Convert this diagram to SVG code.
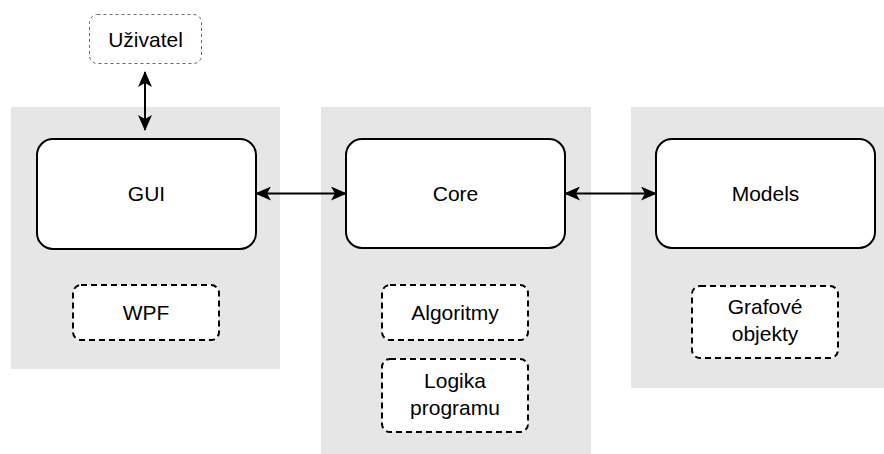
<svg xmlns="http://www.w3.org/2000/svg" width="884" height="454" viewBox="0 0 884 454">
<style>
.panel{fill:#e6e6e6;stroke:none}
.main{fill:#fff;stroke:#000;stroke-width:2}
.sub{fill:#fff;stroke:#000;stroke-width:2;stroke-dasharray:6 4}
.user{fill:#fff;stroke:#666;stroke-width:1;stroke-dasharray:3 3}
.lbl{font-family:"Liberation Sans",Arial,sans-serif;font-size:21px;fill:#000;text-anchor:middle}
.conn{stroke:#000;stroke-width:2;fill:none}
</style>
<defs>
<marker id="ah" viewBox="0 0 16 14" refX="15" refY="7" markerWidth="16" markerHeight="14" markerUnits="userSpaceOnUse" orient="auto-start-reverse">
<path d="M16 7 L0 0 L4 7 L0 14 Z" fill="#000"/>
</marker>
</defs>
<g id="panels">
<rect class="panel" x="11" y="107" width="269" height="262"/>
<rect class="panel" x="321" y="107" width="270" height="347"/>
<rect class="panel" x="631" y="107" width="253" height="281"/>
</g>
<g id="user">
<rect class="user" x="89.5" y="14.5" width="112" height="49" rx="8"/>
<text class="lbl" x="145.5" y="47">Uživatel</text>
</g>
<g id="gui">
<rect class="main" x="37" y="139" width="219" height="110" rx="16"/>
<text class="lbl" x="146.5" y="201">GUI</text>
</g>
<g id="wpf">
<rect class="sub" x="73" y="285" width="146" height="55" rx="8"/>
<text class="lbl" x="146" y="320">WPF</text>
</g>
<g id="core">
<rect class="main" x="346" y="139" width="219" height="109" rx="16"/>
<text class="lbl" x="455.5" y="201">Core</text>
</g>
<g id="algoritmy">
<rect class="sub" x="382" y="285" width="146" height="55" rx="8"/>
<text class="lbl" x="455" y="320">Algoritmy</text>
</g>
<g id="logika">
<rect class="sub" x="382" y="359" width="146" height="73" rx="8"/>
<text class="lbl" x="455" y="388">Logika</text>
<text class="lbl" x="455" y="415">programu</text>
</g>
<g id="models">
<rect class="main" x="656" y="139" width="219" height="109" rx="16"/>
<text class="lbl" x="765.5" y="201">Models</text>
</g>
<g id="grafove">
<rect class="sub" x="692" y="286" width="146" height="72" rx="8"/>
<text class="lbl" x="765" y="314">Grafové</text>
<text class="lbl" x="765" y="341">objekty</text>
</g>
<g id="connectors">
<line class="conn" x1="145" y1="72" x2="145" y2="130" marker-start="url(#ah)" marker-end="url(#ah)"/>
<line class="conn" x1="256" y1="193.5" x2="346" y2="193.5" marker-start="url(#ah)" marker-end="url(#ah)"/>
<line class="conn" x1="565" y1="193.5" x2="656" y2="193.5" marker-start="url(#ah)" marker-end="url(#ah)"/>
</g>
</svg>
